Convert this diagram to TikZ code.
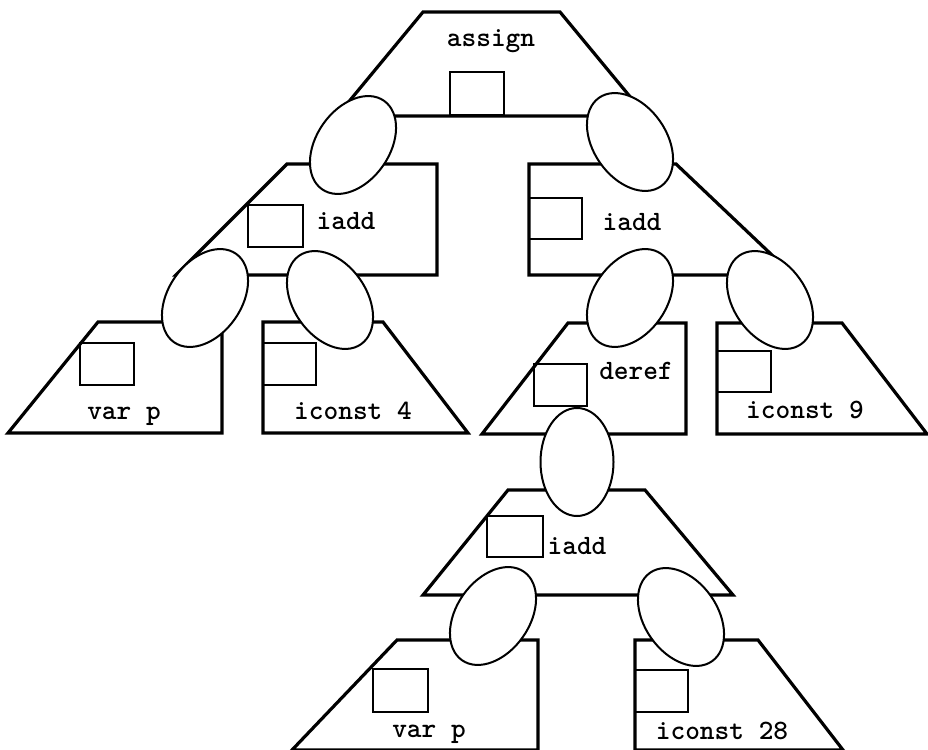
\documentclass[tikz,border=0pt]{standalone}
\usetikzlibrary{shapes.geometric}
\begin{document}
\begin{tikzpicture}[x=1pt,y=-1pt,
  trap/.style={draw=black,line width=3.2pt,line join=miter},
  sqbox/.style={draw=black,line width=2.4pt},
  ell/.style={ellipse,draw=black,fill=white,line width=2pt,minimum width=108pt,minimum height=73pt,inner sep=0pt},
  lbl/.style={anchor=base,inner sep=0pt,font=\ttfamily\bfseries\fontsize{28}{34}\selectfont}]
\clip (0,0) rectangle (928,749);
\fill[white] (0,0) rectangle (928,749);
% trapezoids
\draw[trap] (423,12) -- (560,12) -- (646,116) -- (337,116) -- cycle;
\draw[trap] (287,164) -- (437,164) -- (437,275) -- (176,275) -- cycle;
\draw[trap] (529,164) -- (676,164) -- (793,275) -- (529,275) -- cycle;
\draw[trap] (98,322) -- (222,322) -- (222,433) -- (8,433) -- cycle;
\draw[trap] (263,322) -- (383,322) -- (468,433) -- (263,433) -- cycle;
\draw[trap] (568,323) -- (686,323) -- (686,434) -- (482,434) -- cycle;
\draw[trap] (717,323) -- (842,323) -- (927,434) -- (717,434) -- cycle;
\draw[trap] (508,490) -- (645,490) -- (733,595) -- (423,595) -- cycle;
\draw[trap] (397,640) -- (538,640) -- (538,750) -- (292,750) -- cycle;
\draw[trap] (635,640) -- (758,640) -- (843,750) -- (635,750) -- cycle;
% boxes
\draw[sqbox] (450,72) rectangle (504,115);
\draw[sqbox] (248,205) rectangle (303,247);
\draw[sqbox] (529,198) rectangle (582,239);
\draw[sqbox] (80,343) rectangle (134,385);
\draw[sqbox] (263,343) rectangle (316,385);
\draw[sqbox] (534,364) rectangle (587,406);
\draw[sqbox] (717,351) rectangle (771,392);
\draw[sqbox] (487,516) rectangle (543,557);
\draw[sqbox] (373,669) rectangle (428,712);
\draw[sqbox] (635,670) rectangle (688,712);
% ellipses
\node[ell,rotate=55] (e1) at (353,145) {};
\node[ell,rotate=-55] (e2) at (630,142) {};
\node[ell,rotate=55] (e3) at (205,298) {};
\node[ell,rotate=-55] (e4) at (330,300) {};
\node[ell,rotate=55] (e5) at (630,298) {};
\node[ell,rotate=-55] (e6) at (770,300) {};
\node[ell,rotate=90] (e7) at (577,462) {};
\node[ell,rotate=55] (e8) at (493,616) {};
\node[ell,rotate=-55] (e9) at (681,617) {};
% labels
\node[lbl] (t0) at (491,47) {assign};
\node[lbl] (t1) at (346,229) {iadd};
\node[lbl] (t2) at (632,230) {iadd};
\node[lbl] (t3) at (124,419) {var p};
\node[lbl] (t4) at (353,419) {iconst 4};
\node[lbl] (t5) at (636,379) {deref};
\node[lbl] (t6) at (805,418) {iconst 9};
\node[lbl] (t7) at (577,554) {iadd};
\node[lbl] (t8) at (429,737) {var p};
\node[lbl] (t9) at (722,739) {iconst 28};
\end{tikzpicture}
\end{document}
